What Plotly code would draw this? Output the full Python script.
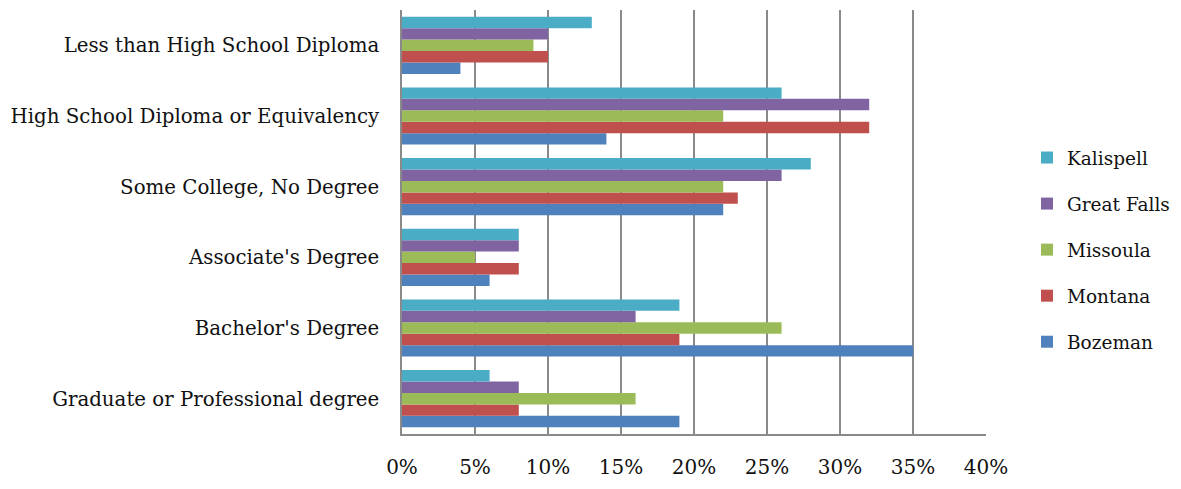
import plotly.graph_objects as go

# Educational attainment shares (percent) by area
categories = [
    "Less than High School Diploma",
    "High School Diploma or Equivalency",
    "Some College, No Degree",
    "Associate's Degree",
    "Bachelor's Degree",
    "Graduate or Professional degree",
]
bozeman = [4, 14, 22, 6, 35, 19]
montana = [10, 32, 23, 8, 19, 8]
missoula = [9, 22, 22, 5, 26, 16]
great_falls = [10, 32, 26, 8, 16, 8]
kalispell = [13, 26, 28, 8, 19, 6]

# drawn bottom-to-top inside each group; legend lists them top-down by rank
series = [
    ("Bozeman", bozeman, "#4F81BD", 5),
    ("Montana", montana, "#C0504D", 4),
    ("Missoula", missoula, "#9BBB59", 3),
    ("Great Falls", great_falls, "#8064A2", 2),
    ("Kalispell", kalispell, "#4BACC6", 1),
]
x_ticks = [0, 5, 10, 15, 20, 25, 30, 35, 40]

FONT = "DejaVu Serif, Liberation Serif, serif"

fig = go.Figure()
for name, vals, color, rank in series:
    fig.add_trace(go.Bar(
        y=categories, x=vals, name=name, orientation="h",
        marker=dict(color=color, line=dict(width=0)),
        legendgroup=name, legendrank=rank,
    ))

fig.update_layout(
    width=1181, height=489,
    barmode="group", bargap=0.19, bargroupgap=0,
    plot_bgcolor="white", paper_bgcolor="white",
    margin=dict(l=400, r=195, t=10, b=52),
    font=dict(family=FONT, size=19, color="#111111"),
    legend=dict(
        traceorder="grouped", tracegroupgap=19,
        xref="container", yref="container",
        x=1027 / 1181, y=1 - 250 / 489, xanchor="left", yanchor="middle",
        font=dict(family=FONT, size=18.5, color="#111111"),
        itemwidth=30,
    ),
    xaxis=dict(
        range=[0, 40], tickvals=x_ticks,
        ticktext=[f"{v}%" for v in x_ticks],
        showgrid=True, gridcolor="#8a8a8a", gridwidth=1.5,
        showline=True, linecolor="#8a8a8a", linewidth=1.5,
        zeroline=False, ticks="", ticklabelstandoff=14,
        tickfont=dict(family=FONT, size=20),
    ),
    yaxis=dict(
        categoryorder="array", categoryarray=categories[::-1],
        showgrid=False, showline=True, linecolor="#8a8a8a", linewidth=1.5,
        ticks="", ticklabelstandoff=17,
        tickfont=dict(family=FONT, size=19.8),
    ),
)

fig.write_html("out.html")
